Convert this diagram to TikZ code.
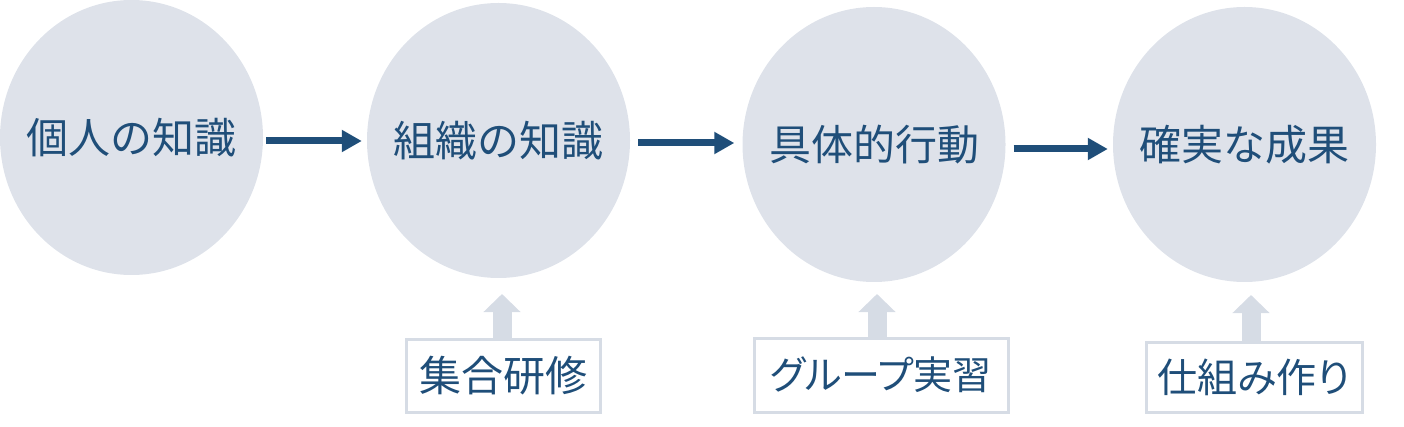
\documentclass[tikz,border=0pt]{standalone}
\usepackage{fontspec}
\newfontfamily\jp{Noto Sans CJK JP}
\newfontfamily\jpprop[RawFeature=+palt]{Noto Sans CJK JP}
\usetikzlibrary{shapes.geometric,arrows.meta}
\definecolor{circfill}{HTML}{DEE2EA}
\definecolor{darkblue}{HTML}{1F4E79}
\definecolor{lightline}{HTML}{D6DCE5}
\begin{document}
\begin{tikzpicture}[x=1pt,y=-1pt,
  circ/.style={ellipse, fill=circfill, draw=none, inner sep=0pt,
    minimum width=263pt, minimum height=275pt},
  circtext/.style={inner sep=0pt, font=\jp\fontsize{42}{48}\selectfont, text=darkblue},
  flow/.style={draw=darkblue, line width=7pt,
    -{Triangle[length=20pt,width=21pt]}},
  upflow/.style={draw=lightline, line width=19pt,
    -{Triangle[length=18pt,width=36pt]}},
  tagbox/.style={rectangle, draw=lightline, line width=3pt, fill=white,
    inner sep=0pt, font=\jpprop\fontsize{42}{48}\selectfont, text=darkblue}
]
\useasboundingbox (0,0) rectangle (1404,427);
\node[circ] (c1) at (131.5,137.5) {};
\node[circ] (c2) at (498.5,140.5) {};
\node[circ] (c3) at (874,144.5) {};
\node[circ] (c4) at (1244.5,144.5) {};
\node[circtext] (l1) at (c1) {個人の知識};
\node[circtext] (l2) at (c2) {組織の知識};
\node[circtext] (l3) at (c3) {具体的行動};
\node[circtext] (l4) at (c4) {確実な成果};

\draw[flow] ([xshift=3pt,yshift=-3.5pt]c1.east) -- ([xshift=-5pt,yshift=-0.5pt]c2.west);
\draw[flow] ([xshift=8pt,yshift=-2.5pt]c2.east) -- ([xshift=-8pt,yshift=1.5pt]c3.west);
\draw[flow] ([xshift=8pt,yshift=-4.5pt]c3.east) -- ([xshift=-5pt,yshift=-4.5pt]c4.west);

\coordinate (t1) at (502,294);
\coordinate (t2) at (877,294);
\coordinate (t3) at (1251,295);
\coordinate (s1) at (502,340);
\coordinate (s2) at (877,339);
\coordinate (s3) at (1251,343);
\draw[upflow] (s1) -- (t1);
\draw[upflow] (s2) -- (t2);
\draw[upflow] (s3) -- (t3);

\node[tagbox, minimum width=194pt, minimum height=73pt] (b1) at (503,375.5) {集合研修};
\node[tagbox, minimum width=254pt, minimum height=74pt,
  font=\jpprop\fontsize{39}{45}\selectfont] (b2) at (881,375) {グループ実習};
\node[tagbox, minimum width=216pt, minimum height=70pt,
  font=\jpprop\fontsize{40}{46}\selectfont] (b3) at (1254,377) {仕組み作り};
\end{tikzpicture}
\end{document}
